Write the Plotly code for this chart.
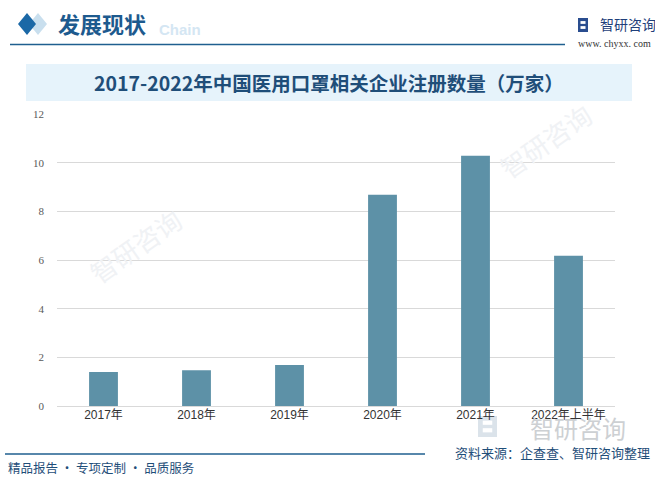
import plotly.graph_objects as go

categories = ["2017年", "2018年", "2019年", "2020年", "2021年", "2022年上半年"]
values = [1.40, 1.47, 1.68, 8.68, 10.28, 6.17]
y_ticks = [0, 2, 4, 6, 8, 10, 12]

W, H = 655, 478
L, R, T, B = 57, 615, 114, 406

def px(x):
    return (x - L) / (R - L)

def py(y):
    return (B - y) / (B - T)

fig = go.Figure(go.Bar(
    x=categories, y=values,
    marker=dict(color="#5d91a7", line=dict(width=0)),
    width=0.31,
    hoverinfo="x+y",
))

CJK = "Noto Sans CJK SC"
DARK = "#1d5a8e"

shapes = []
def diamond(cx, cy, hw, hh, color):
    path = "M {} {} L {} {} L {} {} L {} {} Z".format(
        px(cx - hw), py(cy), px(cx), py(cy - hh), px(cx + hw), py(cy), px(cx), py(cy + hh))
    return dict(type="path", path=path, xref="paper", yref="paper",
                fillcolor=color, line=dict(width=0), layer="above")

shapes.append(diamond(38, 24, 9, 11, "#c9dfee"))
shapes.append(diamond(27, 24, 9, 11, "#1b68a6"))
shapes.append(dict(type="line", xref="paper", yref="paper",
                   x0=px(10), x1=px(565), y0=py(44.5), y1=py(44.5),
                   line=dict(color="#1f5f8f", width=1.3)))
shapes.append(dict(type="rect", xref="paper", yref="paper",
                   x0=px(26), x1=px(632), y0=py(64), y1=py(101),
                   fillcolor="#e6f3fb", line=dict(width=0), layer="below"))
shapes.append(dict(type="line", xref="paper", yref="paper",
                   x0=px(5), x1=px(425), y0=py(454), y1=py(454),
                   line=dict(color="#1f5f8f", width=1.3)))

def logo(x0, y0, w, h, color):
    out = [dict(type="rect", xref="paper", yref="paper",
                x0=px(x0), x1=px(x0 + w), y0=py(y0), y1=py(y0 + h),
                fillcolor=color, line=dict(width=0), layer="below")]
    for fy in (0.22, 0.58):
        out.append(dict(type="rect", xref="paper", yref="paper",
                        x0=px(x0 + w * 0.25), x1=px(x0 + w * 0.75),
                        y0=py(y0 + h * fy), y1=py(y0 + h * (fy + 0.2)),
                        fillcolor="white", line=dict(width=0), layer="below"))
    return out

shapes += logo(578, 18, 10, 14, "#2a4d8f")
shapes += logo(478, 416, 19, 21, "#dbe3ea")

annotations = []
def ann(text, x, y, size, color, xanchor="left", family=CJK, bold=False, angle=0):
    if bold:
        text = "<b>" + text + "</b>"
    annotations.append(dict(text=text, x=px(x), y=py(y), xref="paper", yref="paper",
                            xanchor=xanchor, yanchor="middle", showarrow=False,
                            textangle=angle,
                            font=dict(size=size, color=color, family=family)))

# faint watermarks (kept away from bars)
for (wx, wy) in [(135, 245), (545, 140)]:
    ann("智研咨询", wx, wy, 26, "#f0f2f5", xanchor="center", angle=-35)
ann("智研咨询", 578, 427, 24, "#cdd0d3", xanchor="center")

ann("Chain", 157, 29, 15, "#d4e6f3", bold=True, family="Arial")
ann("发展现状", 56, 23, 22, DARK, bold=True)
ann("智研咨询", 598, 24, 14, "#1f3f7a")
ann("www. chyxx. com", 653, 44, 10, "#333333", xanchor="right", family="Liberation Serif")
ann("2017-2022年中国医用口罩相关企业注册数量（万家）", 329, 83, 19.5, "#1f4e79", xanchor="center", bold=True)
ann("精品报告 · 专项定制 · 品质服务", 6, 467, 12.5, "#1f4e79")
ann("资料来源：企查查、智研咨询整理", 652, 452, 13, "#1f4e79", xanchor="right")

fig.update_layout(
    width=W, height=H,
    margin=dict(l=L, r=W - R, t=T, b=H - B),
    paper_bgcolor="white", plot_bgcolor="rgba(0,0,0,0)",
    showlegend=False,
    shapes=shapes,
    annotations=annotations,
    xaxis=dict(showgrid=False, showline=False, ticks="",
               tickfont=dict(size=12, color="#333333", family="Liberation Sans, " + CJK)),
    yaxis=dict(range=[0, 12], tickvals=y_ticks, showgrid=True, gridcolor="#d9d9d9",
               gridwidth=1, zeroline=True, zerolinecolor="#d9d9d9", zerolinewidth=1,
               showline=False, ticks="", ticklabelstandoff=12,
               tickfont=dict(size=11, color="#595959", family="Liberation Serif")),
    font=dict(family=CJK),
)

fig.write_html("out.html", config={"displayModeBar": False},
               post_script="document.body.style.margin='0';document.body.style.overflow='hidden';")
